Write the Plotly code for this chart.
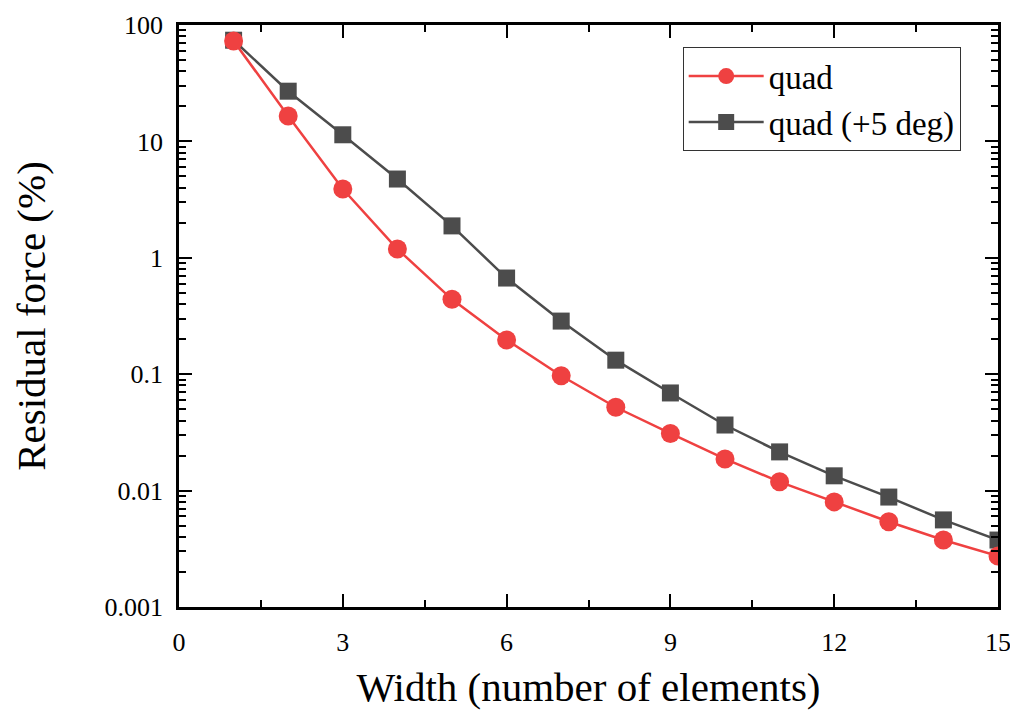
import plotly.graph_objects as go

width_elems = list(range(1, 16))
quad = [73, 16.5, 3.9, 1.19, 0.44, 0.197, 0.097, 0.052, 0.031, 0.0187, 0.0119, 0.0080, 0.0054, 0.00376, 0.00274]
quad_5deg = [74, 27, 11.4, 4.75, 1.88, 0.67, 0.286, 0.132, 0.069, 0.0366, 0.0215, 0.0134, 0.0088, 0.0056, 0.00376]

y_major = [0.001, 0.01, 0.1, 1, 10, 100]
y_major_text = ["0.001", "0.01", "0.1", "1", "10", "100"]
x_major = [0, 3, 6, 9, 12, 15]

y_minor = [m * 10 ** e for e in range(-3, 2) for m in range(2, 10)]
x_minor = [1.5, 4.5, 7.5, 10.5, 13.5]

FONT = "Liberation Serif"
RED = "#EF4141"
GRAY = "#4C4C4C"

fig = go.Figure()
fig.add_trace(go.Scatter(
    x=width_elems, y=quad_5deg, name="quad (+5 deg)", mode="lines+markers",
    line=dict(color=GRAY, width=2.5),
    marker=dict(symbol="square", size=17, color=GRAY),
    legendrank=2,
))
fig.add_trace(go.Scatter(
    x=width_elems, y=quad, name="quad", mode="lines+markers",
    line=dict(color=RED, width=2.5),
    marker=dict(symbol="circle", size=19, color=RED),
    legendrank=1,
))

# page body has an 8px margin, so the figure is 1002x709 offset by 8px
fig.update_layout(
    width=1002, height=709,
    margin=dict(l=171, r=12, t=17, b=110, autoexpand=False),
    paper_bgcolor="white", plot_bgcolor="white",
    font=dict(family=FONT, size=26, color="black"),
    showlegend=True,
    legend=dict(
        x=0.615, y=0.962, xanchor="left", yanchor="top",
        bordercolor="#333333", borderwidth=1, bgcolor="white",
        font=dict(family=FONT, size=33),
        itemwidth=75,
        tracegroupgap=0,
    ),
)

fig.update_xaxes(
    range=[0, 15], tickvals=x_major, ticks="inside", ticklen=13, tickwidth=2,
    tickcolor="black", showline=True, linecolor="black", linewidth=2.5,
    mirror="ticks", showgrid=False, zeroline=False,
    tickfont=dict(family=FONT, size=26), ticklabelstandoff=10,
    ticklabeloverflow="allow",
    title=dict(text="Width (number of elements)", font=dict(family=FONT, size=41), standoff=17),
    minor=dict(tickvals=x_minor, ticks="inside", ticklen=7, tickwidth=2, tickcolor="black", showgrid=False),
)
fig.update_yaxes(
    type="log", range=[-3, 2], tickvals=y_major, ticktext=y_major_text,
    ticks="inside", ticklen=13, tickwidth=2, tickcolor="black",
    showline=True, linecolor="black", linewidth=2.5, mirror="ticks",
    showgrid=False, zeroline=False,
    tickfont=dict(family=FONT, size=26), ticklabelstandoff=8,
    ticklabeloverflow="allow",
    title=dict(text="Residual force (%)", font=dict(family=FONT, size=41), standoff=51),
    minor=dict(tickvals=y_minor, ticks="inside", ticklen=7, tickwidth=2, tickcolor="black", showgrid=False),
)

fig.write_html("out.html")
